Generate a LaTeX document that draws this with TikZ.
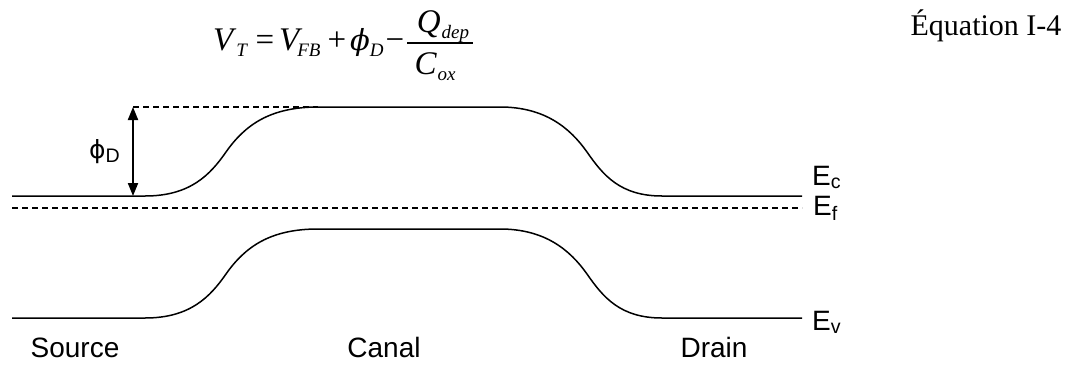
\documentclass[tikz,border=0pt]{standalone}
\usepackage{fontspec}
\setmainfont{Liberation Sans}
\newfontfamily\timesfont{Liberation Serif}
\newfontfamily\dvserif{DejaVu Serif}
\newfontfamily\dvsans{DejaVu Sans}
\usetikzlibrary{arrows.meta}
\newcommand\eqsub[1]{\raisebox{-6pt}{\fontsize{19}{20}\selectfont\itshape #1}}

\begin{document}
\begin{tikzpicture}[x=1pt, y=-1pt,
  band/.style={line width=1.5pt},
  fermi/.style={line width=1.8pt, dash pattern=on 6pt off 4pt},
  lbl/.style={inner sep=0pt, font=\fontsize{28}{32}\selectfont},
  eqtxt/.style={inner sep=0pt, font=\timesfont\fontsize{33}{36}\selectfont}]
\useasboundingbox (0,0) rectangle (1078,367);

% equation
\node[eqtxt, anchor=base west] (vt) at (213,50) {\itshape V\kern3pt\eqsub{T}};
\node[eqtxt, anchor=base] (eqsign) at (265,50) {=};
\node[eqtxt, anchor=base west] (vfb) at (279,50) {\itshape V\kern-2pt\eqsub{FB}};
\node[eqtxt, anchor=base] (plus) at (337,50) {+};
\node[eqtxt, anchor=base west] (phi) at (350,50) {{\dvserif\itshape\fontsize{29}{30}\selectfont ϕ}\eqsub{D}};
\node[eqtxt, anchor=base] (minus) at (395,50) {−};
\node[eqtxt, anchor=base] (num) at (443,32) {\itshape Q\kern1pt\eqsub{dep}};
\node[eqtxt, anchor=base] (den) at (435,74) {\itshape C\kern1pt\eqsub{ox}};
\coordinate (barl) at (407,43);
\coordinate (barr) at (473,43);
\draw[line width=1.3pt] (barl) -- (barr);
\node[eqtxt, anchor=base, font=\timesfont\fontsize{30}{32}\selectfont] (eqnum) at (986,35) {Équation I-4};

% conduction and valence bands
\foreach \dy in {0,122}
  \draw[band] (12,{196+\dy}) -- (145,{196+\dy})
    .. controls (190,{196+\dy}) and (210,{175+\dy}) .. (226,{152+\dy})
    .. controls (245,{125+\dy}) and (270,{107+\dy}) .. (318,{107+\dy})
    -- (500,{107+\dy})
    .. controls (545,{107+\dy}) and (570,{128+\dy}) .. (587,{152+\dy})
    .. controls (603,{175+\dy}) and (620,{196+\dy}) .. (662,{196+\dy})
    -- (802,{196+\dy});

\draw[fermi] (12,208) -- (802,208);
\draw[fermi] (133,107) -- (318,107);

\coordinate (phitop) at (133,107);
\coordinate (phibot) at (133,196);
\draw[line width=2pt, {Triangle[length=13pt,width=10pt]}-{Triangle[length=13pt,width=10pt]}] (phitop) -- (phibot);
\node[lbl, anchor=base west] (phid) at (89,158) {{\dvsans\fontsize{25}{28}\selectfont ϕ}\textsubscript{D}};

\node[lbl, anchor=base west] (ec) at (812,185) {E\textsubscript{c}};
\node[lbl, anchor=base west] (ef) at (813,215) {E\textsubscript{f}};
\node[lbl, anchor=base west] (ev) at (812,330) {E\textsubscript{v}};

\node[lbl, anchor=base] (src) at (75,357) {Source};
\node[lbl, anchor=base] (canal) at (384,357) {Canal};
\node[lbl, anchor=base] (drain) at (714,357) {Drain};

\end{tikzpicture}
\end{document}
